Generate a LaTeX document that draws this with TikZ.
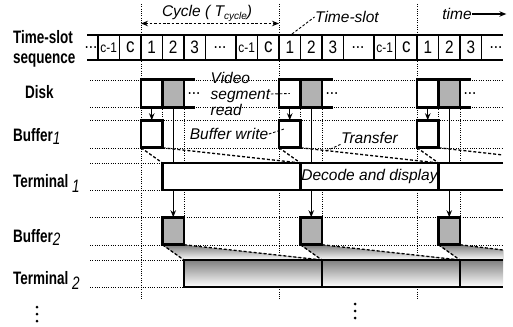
\documentclass[tikz,border=0pt]{standalone}
\usepackage{fontspec}
\setmainfont{Liberation Sans}
\newfontfamily\narrowfont{Liberation Sans}[FakeStretch=0.85]
\newfontfamily\labelfont{Liberation Sans}[FakeStretch=0.75]
\usetikzlibrary{arrows.meta, positioning, calc}

\colorlet{shade}{black!30}
\newcommand{\lowsub}[2][3pt]{\raisebox{-#1}{\mdseries\itshape #2}}

\begin{document}
\begin{tikzpicture}[
    x=1pt, y=-1pt,
    >={Stealth[length=7pt, width=5.5pt]},
    boldline/.style={line width=2.6pt},
    guide/.style={line width=0.9pt, dash pattern=on 1pt off 1.3pt},
    leader/.style={line width=0.9pt, dash pattern=on 2.6pt off 1.8pt},
    transfer/.style={line width=1.3pt, dash pattern=on 3pt off 2pt},
    slotbox/.style={draw, line width=2.6pt, fill=white, minimum width=21.5pt,
                    minimum height=27.5pt, inner sep=0pt, outer sep=0pt},
    rowlabel/.style={anchor=base west, inner sep=0pt,
                     font=\fontsize{18}{18}\selectfont\labelfont\bfseries},
    note/.style={inner sep=0.5pt, font=\fontsize{15.5}{16}\selectfont\itshape},
    cell/.style={inner sep=0pt, font=\fontsize{18}{18}\selectfont\narrowfont}
]
\useasboundingbox (0,0) rectangle (513,326);

% guide lines
\foreach \y in {80,107,120,148,163,190,217,245,260,287}
    \draw[guide] (90,\y) -- (503,\y);
\foreach \c in {141,279,417} {
    \draw[guide] (\c,4) -- (\c,300);
    \draw[guide] (\c+21.5,107) -- (\c+21.5,148);
    \draw[guide] (\c+43,107) -- (\c+43,217);
}

% shaded transfer wedges of terminal 2
\foreach \c in {141,279}
    \fill[shade] (\c+21.5,245) -- (\c+43,245) -- (\c+181,260) -- (\c+43,260) -- cycle;
\fill[shade] (438.5,245) -- (460,245) -- (503,250) -- (503,260) -- (460,260) -- cycle;

% time-slot sequence
\draw[line width=1.3pt] (87,35) -- (503,35) (87,60) -- (503,60);
\node[cell] (dotsL) at (91,47.5) {...};
\foreach \c/\n in {141/1,279/2,417/3} {
    \foreach \dx in {-43,-21.5,21.5,43,64.5}
        \draw[line width=1.1pt] (\c+\dx,35) -- (\c+\dx,60);
    \draw[boldline] (\c,35) -- (\c,60);
    \node[cell, font=\fontsize{14}{14}\selectfont\narrowfont] (prev\n) at (\c-32.25,47.5) {c-1};
    \node[cell, font=\fontsize{20}{20}\selectfont\narrowfont] (last\n) at (\c-10.75,47.5) {c};
    \node[cell] (one\n) at (\c+10.75,47.5) {1};
    \node[cell] (two\n) at (\c+32.25,47.5) {2};
    \node[cell] (three\n) at (\c+53.75,47.5) {3};
    \node[cell] (gap\n) at (\c+79,47.5) {...};
}

% disk reads and buffers
\foreach \c/\n in {141/1,279/2,417/3} {
    \node[slotbox] (disk\n) at (\c+10.75,93.5) {};
    \node[slotbox, fill=shade] (diskg\n) at (\c+32.25,93.5) {};
    \draw[boldline] (diskg\n.north east) -- ++(11,0) (diskg\n.south east) -- ++(11,0);
    \node[cell] (more\n) at (\c+53,93.5) {...};
    \node[slotbox] (bufA\n) at (\c+10.75,134) {};
    \node[slotbox, fill=shade] (bufB\n) at (\c+32.25,231) {};
    \draw[->, line width=1pt] (disk\n) -- (bufA\n);
    \draw[->, line width=1pt] (diskg\n) -- (bufB\n);
}

% terminal 1
\fill[white] (162.5,163) rectangle (503,190);
\draw[boldline] (503,163) -| (162.5,190) -- (503,190);
\foreach \x in {300.5,438.5}
    \draw[boldline] (\x,163) -- (\x,190);
\node[note] (decode) at (369.5,176.5) {Decode and display};

% terminal 2
\fill[shade] (184,260) rectangle (503,287);
\draw[boldline] (503,260) -| (184,287) -- (503,287);
\foreach \x in {322,460}
    \draw[boldline] (\x,260) -- (\x,287);

% transfers
\coordinate (dec1) at (162.5,163);
\coordinate (dec2) at (300.5,163);
\coordinate (dec3) at (438.5,163);
\coordinate (dec4) at (503,155);
\coordinate (shw1) at (184,260);
\coordinate (shw2) at (322,260);
\coordinate (shw3) at (460,260);
\coordinate (shw4) at (503,250);
\foreach \n/\m in {1/2,2/3,3/4} {
    \draw[transfer] (bufA\n.south west) -- (dec\n);
    \draw[transfer] (bufA\n.south east) -- (dec\m);
    \draw[transfer] (bufB\n.south west) -- (shw\n);
    \draw[transfer] (bufB\n.south east) -- (shw\m);
}

% notes
\node[note] (cyclelbl) at (207,13) {Cycle ( T\lowsub[3pt]{\fontsize{10}{10}\selectfont cycle})};
\coordinate (cycL) at (141,23.5);
\coordinate (cycR) at (279,23.5);
\draw[<->, leader, line width=1pt] (cycL) -- (cycR);
\node[note] (tslbl) at (347,17) {Time-slot};
\coordinate (tsref) at (292,34);
\draw[leader] (tsref) -- (tslbl.west);
\node[note] (timelbl) at (457,14) {time};
\draw[->, line width=1.1pt] (timelbl.east) -- ++(34,0);
\node[note, align=left, anchor=west] (vsr) at (210,94) {Video\\segment\\read};
\draw[leader] (vsr.east) -- (disk2.center);
\node[note] (bwrite) at (229,134) {Buffer write};
\draw[leader] (bwrite.east) -- ([xshift=5pt, yshift=5pt]bufA2.west);
\node[note] (xfer) at (369.5,138) {Transfer};
\coordinate (trpt) at (326,151);
\draw[leader] (xfer.south west) -- (trpt);

% row labels
\node[rowlabel] (lslot) at (13,44) {Time-slot};
\node[rowlabel] (lseq) at (13,64) {sequence};
\node[rowlabel] (ldisk) at (25,99) {Disk};
\node[rowlabel] (lbuf1) at (13,141) {Buffer\lowsub[3pt]{1}};
\node[rowlabel] (lterm1) at (13,187) {Terminal \lowsub[5pt]{1}};
\node[rowlabel] (lbuf2) at (13,242) {Buffer\lowsub[3pt]{2}};
\node[rowlabel] (lterm2) at (13,284) {Terminal \lowsub[5pt]{2}};

% continuation marks
\foreach \x/\y in {37/307, 355/304}
    \foreach \dy in {0,7,14}
        \fill (\x,\y+\dy) circle (1.5pt);
\end{tikzpicture}
\end{document}
